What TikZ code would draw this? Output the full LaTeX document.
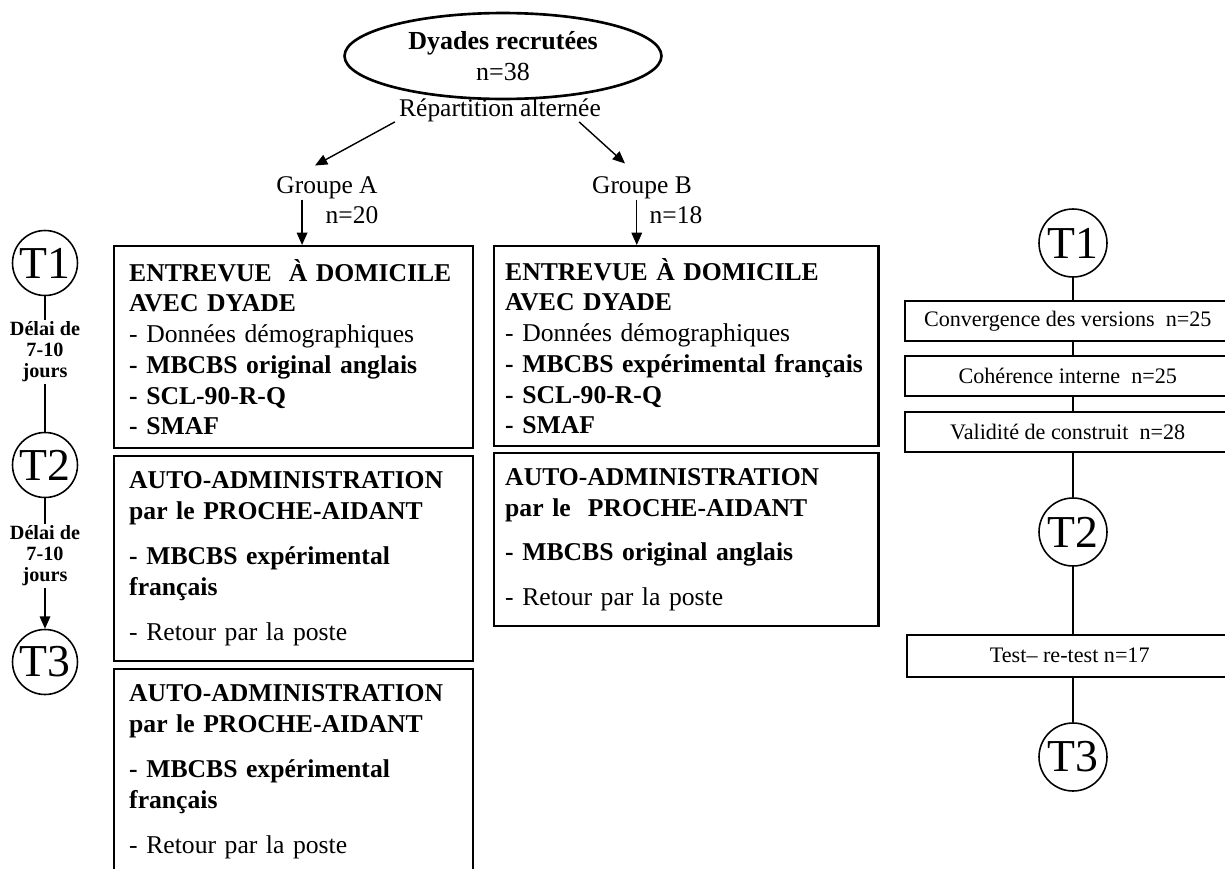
\documentclass[tikz,border=0pt]{standalone}
\usepackage{fontspec}
\setmainfont{Liberation Serif}
\usetikzlibrary{shapes.geometric,arrows.meta,positioning}

\tikzset{
  bigbox/.style={draw, line width=1.4pt, anchor=north west, align=left,
    inner xsep=0.3cm, inner ysep=0pt, font=\fontsize{14.6}{17.5}\selectfont},
  smallbox/.style={draw, line width=0.9pt, anchor=north west, minimum width=6.52cm,
    minimum height=0.8cm, inner sep=0pt, font=\fontsize{12.6}{14}\selectfont},
  tcirc/.style={draw, circle, line width=0.9pt, minimum size=1.3cm, inner sep=0pt,
    font=\fontsize{26}{26}\selectfont},
  delai/.style={align=center, inner sep=1pt, font=\bfseries\fontsize{11.5}{12}\selectfont},
  lbl/.style={inner sep=0pt, font=\fontsize{14.5}{16}\selectfont},
  arr/.style={-{Triangle[length=7pt,width=6pt]}, line width=0.8pt},
  conn/.style={line width=0.9pt}
}

\begin{document}
\begin{tikzpicture}[x=0.02cm, y=-0.02cm]
\clip (0,0) rectangle (1225,869);

% top of the flow
\node[draw, ellipse, line width=1.5pt, minimum width=6.34cm, minimum height=1.7cm,
  align=center, font=\bfseries\fontsize{14.8}{17.5}\selectfont] (dyad) at (503,56)
  {Dyades recrutées\\\mdseries n=38};
\node[lbl] (rep) at (500,110) {Répartition alternée};
\node[lbl] (ga) at (327,188) {Groupe A};
\node[lbl] (gb) at (642,188) {Groupe B};
\node[lbl] (na) at (352,215) {n=20};
\node[lbl] (nb) at (676,215) {n=18};
\draw[arr] ([xshift=-0.08cm]rep.south west) -- ([shift={(-12,-11)}]ga.north);
\draw[arr] ([xshift=-0.44cm]rep.south east) -- ([shift={(-17,-13)}]gb.north);

% group A
\node[bigbox, text width=6.58cm, minimum height=4.04cm] (a1) at (113,245)
  {\textbf{ENTREVUE \ À DOMICILE}\\
   \textbf{AVEC DYADE}\\
   - Données démographiques\\
   \textbf{- MBCBS original anglais}\\
   \textbf{- SCL-90-R-Q}\\
   \textbf{- SMAF}};
\node[bigbox, text width=6.58cm, minimum height=4.1cm] (a2) at (113,455)
  {\textbf{AUTO-ADMINISTRATION}\\
   \textbf{par le PROCHE-AIDANT}\\[8pt]
   \textbf{- MBCBS expérimental}\\
   \textbf{français}\\[8pt]
   - Retour par la poste};
\node[bigbox, text width=6.58cm, minimum height=4.1cm] (a3) at (113,668)
  {\textbf{AUTO-ADMINISTRATION}\\
   \textbf{par le PROCHE-AIDANT}\\[8pt]
   \textbf{- MBCBS expérimental}\\
   \textbf{français}\\[8pt]
   - Retour par la poste};
\draw[arr] ([xshift=0.52cm]ga.south west) -- ([xshift=0.52cm]ga.south west |- a1.north);

% group B
\node[bigbox, inner xsep=0.22cm, text width=7.25cm, minimum height=4.0cm] (b1) at (493,245)
  {\textbf{ENTREVUE À DOMICILE}\\
   \textbf{AVEC DYADE}\\
   - Données démographiques\\
   \textbf{- MBCBS expérimental français}\\
   \textbf{- SCL-90-R-Q}\\
   \textbf{- SMAF}};
\node[bigbox, inner xsep=0.22cm, text width=7.25cm, minimum height=3.46cm] (b2) at (493,452)
  {\textbf{AUTO-ADMINISTRATION}\\
   \textbf{par le \ PROCHE-AIDANT}\\[8pt]
   \textbf{- MBCBS original anglais}\\[8pt]
   - Retour par la poste};
\draw[arr] ([xshift=0.9cm]gb.south west) -- ([xshift=0.9cm]gb.south west |- b1.north);

% time line on the left
\node[tcirc] (lt1) at (45,263) {T1};
\node[tcirc] (lt2) at (45,465) {T2};
\node[tcirc] (lt3) at (45,662) {T3};
\node[delai] (d1) at (45,352) {Délai de\\7-10\\jours};
\node[delai] (d2) at (45,556) {Délai de\\7-10\\jours};
\draw[conn] (lt1) -- (d1);
\draw[conn] (d1) -- (lt2);
\draw[conn] (lt2) -- (d2);
\draw[arr] (d2) -- (lt3);

% time line on the right
\node[tcirc, minimum size=1.36cm] (rt1) at (1073,243) {T1};
\node[tcirc, minimum size=1.36cm] (rt2) at (1073,532) {T2};
\node[tcirc, minimum size=1.36cm] (rt3) at (1073,757) {T3};
\node[smallbox] (conv) at (904,300) {Convergence des versions \ n=25};
\node[smallbox] (coh) at (904,355) {Cohérence interne \ n=25};
\node[smallbox] (val) at (904,411) {Validité de construit \ n=28};
\node[smallbox, minimum height=0.84cm] (trt) at (906,634) {Test– re-test n=17};
\draw[conn] (rt1) -- (rt1 |- conv.north);
\draw[conn] (rt1 |- conv.south) -- (rt1 |- coh.north);
\draw[conn] (rt1 |- coh.south) -- (rt1 |- val.north);
\draw[conn] (rt1 |- val.south) -- (rt2);
\draw[conn] (rt2) -- (rt2 |- trt.north);
\draw[conn] (rt3 |- trt.south) -- (rt3);
\end{tikzpicture}
\end{document}
